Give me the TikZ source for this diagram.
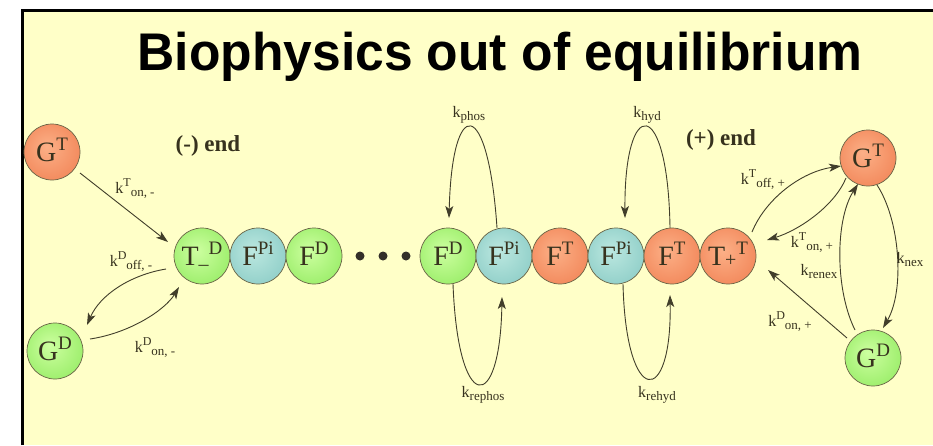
\documentclass[tikz,border=0pt]{standalone}
\usepackage{fontspec}
\setmainfont{Liberation Serif}
\newfontfamily\titlefont{Liberation Sans}
\usetikzlibrary{arrows.meta,calc}
\definecolor{bgy}{RGB}{255,255,200}
\definecolor{orin}{RGB}{252,176,135}
\definecolor{orout}{RGB}{236,110,62}
\definecolor{grin}{RGB}{205,255,160}
\definecolor{grout}{RGB}{122,226,70}
\definecolor{tlin}{RGB}{188,232,224}
\definecolor{tlout}{RGB}{115,190,185}
\definecolor{rim}{RGB}{105,100,70}
\definecolor{ink}{RGB}{55,50,30}
\definecolor{wire}{RGB}{65,62,42}
\pgfdeclareradialshading{orball}{\pgfpoint{-5bp}{5bp}}{color(0bp)=(orin); color(50bp)=(orout)}
\pgfdeclareradialshading{grball}{\pgfpoint{-5bp}{5bp}}{color(0bp)=(grin); color(50bp)=(grout)}
\pgfdeclareradialshading{tlball}{\pgfpoint{-5bp}{5bp}}{color(0bp)=(tlin); color(50bp)=(tlout)}
\newcommand{\ct}[3]{{\fontsize{28}{28}\selectfont #1}\raisebox{-4pt}{\fontsize{20}{20}\selectfont #2}\raisebox{11pt}{\fontsize{19}{19}\selectfont #3}}
\newcommand{\kk}[2]{{\fontsize{16}{16}\selectfont k}\raisebox{7pt}{\fontsize{12}{12}\selectfont #1}\raisebox{-3pt}{\fontsize{13}{13}\selectfont #2}}
\tikzset{
  orb/.style={circle, draw=rim, line width=0.7pt, minimum size=56pt, inner sep=0pt, text=ink},
  orng/.style={orb, shade, shading=orball},
  gren/.style={orb, shade, shading=grball},
  teal/.style={orb, shade, shading=tlball},
  dotb/.style={circle, fill=black!85!olive, minimum size=9pt, inner sep=0pt},
  lab/.style={inner sep=0pt, text=ink},
  arr/.style={draw=wire, line width=0.9pt, -{Stealth[length=12pt,width=8pt,inset=3pt]}}
}
\begin{document}
\begin{tikzpicture}[x=1pt,y=-1pt]
\useasboundingbox (0,0) rectangle (933,445);
\fill[white] (0,0) rectangle (933,445);
\fill[bgy] (22.5,10) rectangle (933,445);
\draw[black, line width=3pt] (22.5,445) -- (22.5,10) -- (933,10);
\node[anchor=base, inner sep=0pt] (title) at (500,70)
  {\scalebox{0.973}[1]{\titlefont\bfseries\fontsize{53}{53}\selectfont Biophysics out of equilibrium}};
% nodes
\node[orng] (GTL) at (52,152) {\ct{G}{}{T}};
\node[gren] (GDL) at (55,351) {\ct{G}{}{D}};
\node[gren] (TmD) at (202,256) {\ct{T}{\raisebox{-1pt}{--}}{D}};
\node[teal] (FPi1) at (258,256) {\ct{F}{}{Pi}};
\node[gren] (FD1) at (314,256) {\ct{F}{}{D}};
\node[dotb] (d1) at (360,256) {};
\node[dotb] (d2) at (383,256) {};
\node[dotb] (d3) at (406,256) {};
\node[gren] (FD2) at (448,256) {\ct{F}{}{D}};
\node[teal] (FPi2) at (504,256) {\ct{F}{}{Pi}};
\node[orng] (FT1) at (560,256) {\ct{F}{}{T}};
\node[teal] (FPi3) at (616,256) {\ct{F}{}{Pi}};
\node[orng] (FT2) at (672,256) {\ct{F}{}{T}};
\node[orng] (TpT) at (728,256) {\ct{T}{\raisebox{3pt}{+}}{T}};
\node[orng] (GTR) at (868,158) {\ct{G}{}{T}};
\node[gren] (GDR) at (873,358) {\ct{G}{}{D}};
% end labels
\node[lab, font=\bfseries\fontsize{23}{23}\selectfont] (mend) at (208,146) {(-) end};
\node[lab, font=\bfseries\fontsize{23}{23}\selectfont] (pend) at (721,140) {(+) end};
% left connectors
\draw[arr] ($(GTL)+(28,21)$) -- ($(TmD)+(-34,-14)$);
\draw[arr] ($(TmD)+(-36,13)$) .. controls ($(TmD)+(-72,19)$) and ($(GDL)+(45,-56)$) .. ($(GDL)+(32,-26)$);
\draw[arr] ($(GDL)+(35,-12)$) .. controls ($(GDL)+(75,-18)$) and ($(TmD)+(-37,54)$) .. ($(TmD)+(-23,31)$);
\node[lab] (l1) at (135,189) {\kk{T}{on, -}};
\node[lab] (l2) at (131,262) {\kk{D}{off, -}};
\node[lab] (l3) at (155,348) {\kk{D}{on, -}};
% loops
\draw[arr] ($(FPi2)+(-7,-28)$) .. controls ($(FPi2)+(-16,-161)$) and ($(FD2)+(4,-161)$) .. ($(FD2)+(1,-38)$);
\draw[arr] ($(FD2)+(5,28)$) .. controls ($(FD2)+(10,159)$) and ($(FPi2)+(-4,159)$) .. ($(FPi2)+(-2,41)$);
\draw[arr] ($(FT2)+(-2,-28)$) .. controls ($(FT2)+(-4,-161)$) and ($(FPi3)+(8,-161)$) .. ($(FPi3)+(9,-38)$);
\draw[arr] ($(FPi3)+(7,28)$) .. controls ($(FPi3)+(10,152)$) and ($(FT2)+(0,152)$) .. ($(FT2)+(-2,39)$);
\node[lab] (l4) at (469,115) {\kk{}{phos}};
\node[lab] (l5) at (483,395) {\kk{}{rephos}};
\node[lab] (l6) at (647,115) {\kk{}{hyd}};
\node[lab] (l7) at (657,395) {\kk{}{rehyd}};
% right connectors
\draw[arr] ($(TpT)+(24,-24)$) .. controls ($(TpT)+(37,-56)$) and ($(GTR)+(-68,14)$) .. ($(GTR)+(-27,8)$);
\draw[arr] ($(GTR)+(-22,20)$) .. controls ($(GTR)+(-33,47)$) and ($(TpT)+(72,-26)$) .. ($(TpT)+(39,-16)$);
\draw[arr] ($(GDR)+(-26,-20)$) -- ($(TpT)+(40,14)$);
\draw[arr] ($(GDR)+(-18,-28)$) .. controls ($(GDR)+(-38,-68)$) and ($(GTR)+(-33,62)$) .. ($(GTR)+(-10,26)$);
\draw[arr] ($(GTR)+(9,27)$) .. controls ($(GTR)+(32,62)$) and ($(GDR)+(32,-68)$) .. ($(GDR)+(10,-30)$);
\node[lab] (l8) at (763,180) {\kk{T}{off, +}};
\node[lab] (l9) at (812,243) {\kk{T}{on, +}};
\node[lab] (l10) at (819,272) {\kk{}{renex}};
\node[lab] (l11) at (910,260) {\kk{}{nex}};
\node[lab] (l12) at (790,322) {\kk{D}{on, +}};
\end{tikzpicture}
\end{document}
